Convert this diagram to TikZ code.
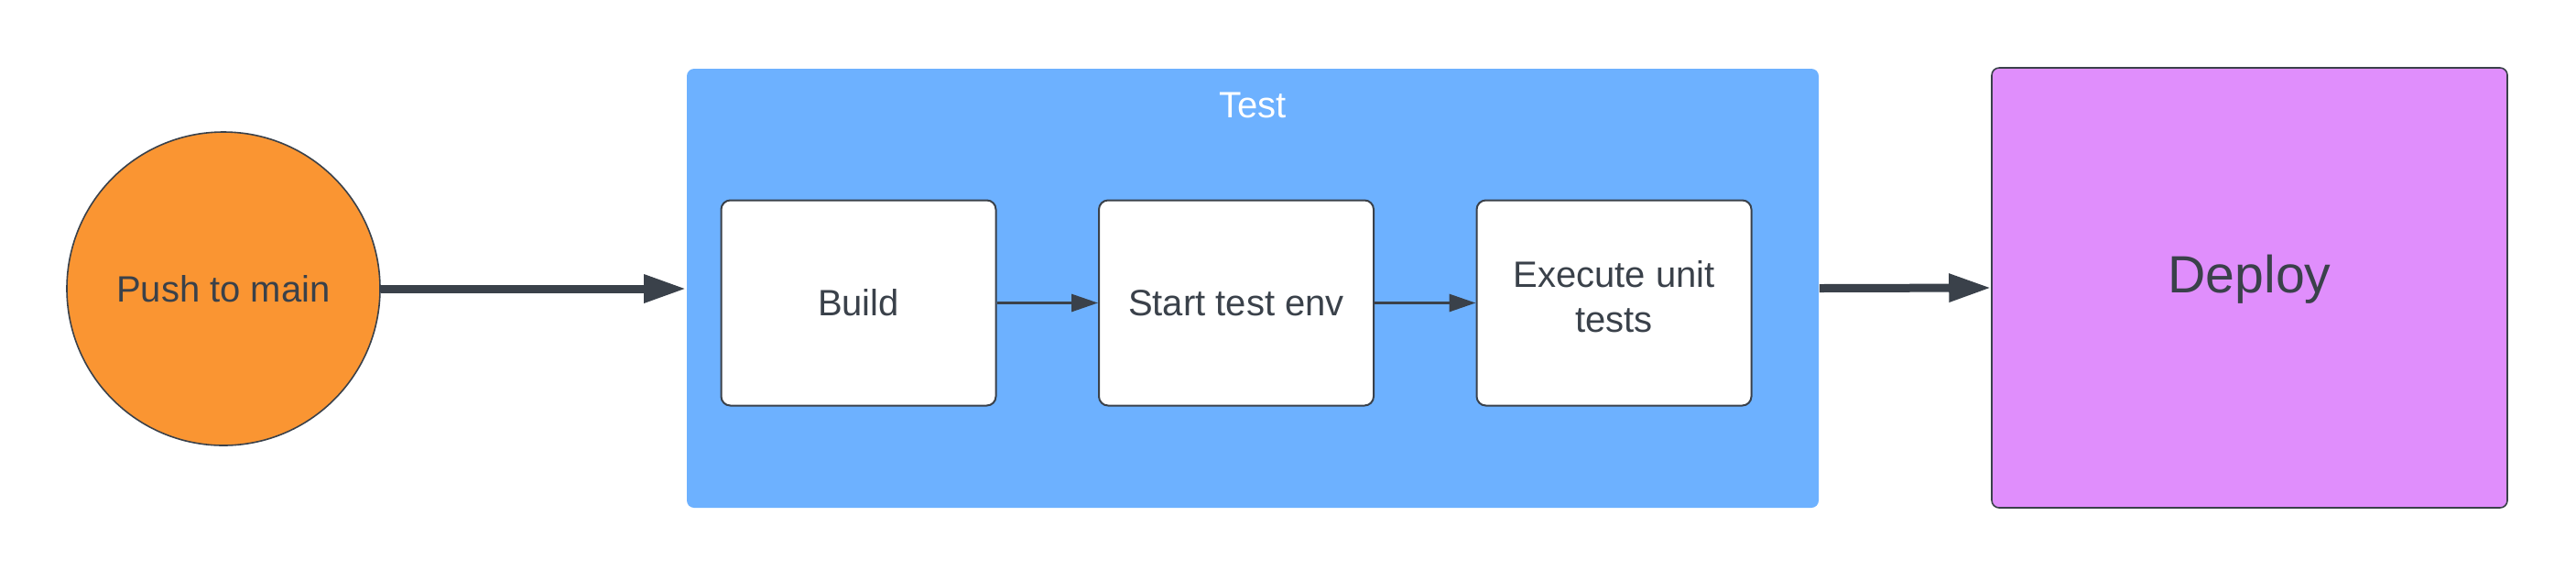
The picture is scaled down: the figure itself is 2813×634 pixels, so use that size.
\documentclass[tikz,border=0pt]{standalone}
\usepackage{fontspec}
\setmainfont{Liberation Sans}
\usetikzlibrary{arrows.meta}
\definecolor{ink}{HTML}{3A414A}
\definecolor{testblue}{HTML}{6DB1FF}
\definecolor{pushorange}{HTML}{FA9532}
\definecolor{deploypurple}{HTML}{E08EFC}
\tikzset{
  lbl/.style={text=ink, font=\fontsize{10}{12.1}\selectfont},
  stepbox/.style={lbl, draw=ink, line width=0.5pt, fill=white, rounded corners=2.5pt,
    minimum width=75pt, minimum height=56pt, inner sep=0pt, align=center},
  bigarrow/.style={draw=ink, line width=2.25pt, -{Triangle[length=11.5pt,width=7.25pt]}},
  smallarrow/.style={draw=ink, line width=0.75pt, -{Triangle[length=7.25pt,width=4.75pt]}},
}
\begin{document}
\begin{tikzpicture}[x=0.25pt,y=-0.25pt]
\useasboundingbox (0,0) rectangle (2813,634);
\fill[white] (0,0) rectangle (2813,634);
% start
\node[circle, draw=ink, line width=0.4pt, fill=pushorange, minimum size=85.5pt, inner sep=0pt, lbl]
  (push) at (244,315) {Push to main};
% test container
\node[fill=testblue, rounded corners=2pt, minimum width=309pt, minimum height=119.75pt, inner sep=0pt]
  (test) at (1368,314.5) {};
\node[text=white, font=\fontsize{10}{12}\selectfont] (testlbl) at (1368,115) {Test};
% steps
\node[stepbox] (build) at (937.5,330.5) {Build};
\node[stepbox] (start) at (1350,330.5) {Start test env};
\node[stepbox, text depth=3.5pt] (exec) at (1762.5,330.5) {Execute unit\\tests};
% deploy
\node[draw=ink, line width=0.4pt, fill=deploypurple, rounded corners=2pt,
  minimum width=140.75pt, minimum height=120pt, inner sep=0pt,
  text=ink, font=\fontsize{14.3}{16}\selectfont, text height=10.3pt, text depth=7.6pt]
  (deploy) at (2456.5,314) {Deploy};
% connectors
\draw[bigarrow] (push.east) -- (push.east -| test.west);
\draw[bigarrow] (test.east) -- (deploy.west);
\draw[smallarrow] (build.east) -- (start.west);
\draw[smallarrow] (start.east) -- (exec.west);
\end{tikzpicture}
\end{document}
